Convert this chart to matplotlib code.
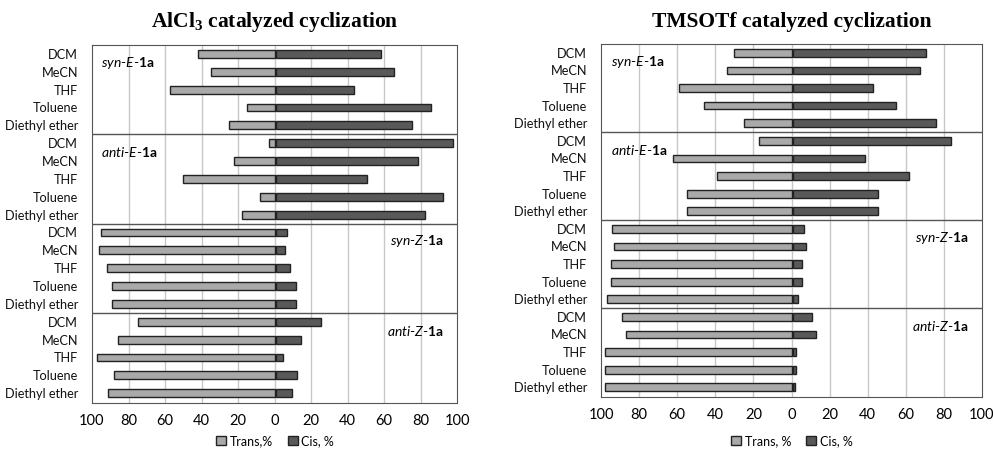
import numpy as np
import matplotlib.pyplot as plt
from matplotlib.patches import Patch

plt.rcParams['font.family'] = ['Lato', 'DejaVu Sans']
plt.rcParams['mathtext.fontset'] = 'custom'
plt.rcParams['mathtext.it'] = 'Lato:italic'
plt.rcParams['mathtext.bf'] = 'Lato:bold'
plt.rcParams['mathtext.rm'] = 'Lato'

solvents = ['DCM', 'MeCN', 'THF', 'Toluene', 'Diethyl ether']
groups = [r'$\mathit{syn}$-$\mathit{E}$-$\mathbf{1a}$', r'$\mathit{anti}$-$\mathit{E}$-$\mathbf{1a}$',
          r'$\mathit{syn}$-$\mathit{Z}$-$\mathbf{1a}$', r'$\mathit{anti}$-$\mathit{Z}$-$\mathbf{1a}$']

# AlCl3 (rows: syn-E, anti-E, syn-Z, anti-Z; each 5 solvents)
alcl3_trans = [42, 35, 57, 15, 25,
               3, 22, 50, 8, 18,
               95, 96, 92, 89, 89,
               75, 86, 97, 88, 91]
alcl3_cis = [58, 65, 43, 85, 75,
             97, 78, 50, 92, 82,
             6, 5, 8, 11, 11,
             25, 14, 4, 12, 9]

# TMSOTf
tms_trans = [30, 34, 59, 46, 25,
             17, 62, 39, 55, 55,
             94, 93, 95, 95, 97,
             89, 87, 98, 98, 98]
tms_cis = [70, 67, 42, 54, 75,
           83, 38, 61, 45, 45,
           6, 7, 5, 5, 3,
           10, 12, 1.5, 1.5, 1]

titles = [r'AlCl$_\mathregular{3}$ catalyzed cyclization', 'TMSOTf catalyzed cyclization']
legend_labels = [['Trans,%', 'Cis, %'], ['Trans, %', 'Cis, %']]

W, H = 993, 450
fig = plt.figure(figsize=(W / 100, H / 100), dpi=100)

boxes = [(92, 45, 457, 403), (601, 44, 982, 397)]
light, dark = '#a9a9a9', '#595959'

for k, (trans, cis) in enumerate([(alcl3_trans, alcl3_cis), (tms_trans, tms_cis)]):
    x0, y0, x1, y1 = boxes[k]
    ax = fig.add_axes([x0 / W, 1 - y1 / H, (x1 - x0) / W, (y1 - y0) / H])
    y = np.arange(len(trans))
    ax.barh(y, -np.array(trans), height=0.44, color=light, edgecolor='#222222', lw=1, zorder=3)
    ax.barh(y, cis, height=0.44, color=dark, edgecolor='#222222', lw=1, zorder=3, left=0.6)
    ax.set_xlim(-100, 100)
    ax.set_ylim(19.55, -0.5)
    ax.set_yticks(y)
    ax.set_yticklabels(solvents * 4, fontsize=9.2, color='#111111')
    ax.set_xticks(np.arange(-100, 101, 20))
    ax.set_xticklabels([str(abs(v)) for v in range(-100, 101, 20)], fontsize=10.5)
    ax.tick_params(length=0, pad=8)
    ax.tick_params(axis='y', pad=10)
    for v in range(-80, 100, 20):
        ax.axvline(v, color='#c8c8c8', lw=1, zorder=1)
    for b in (4.5, 9.5, 14.5):
        ax.axhline(b, color='#555555', lw=1, zorder=2)
    for s in ax.spines.values():
        s.set_color('#555555')
    for g in range(4):
        if g < 2:
            ax.text(-95, g * 5 + 0.5, groups[g], fontsize=10, ha='left', va='center')
        else:
            ax.text(93, g * 5 + 0.5, groups[g], fontsize=10, ha='right', va='center')
    fig.text((x0 + x1) / 2 / W, 1 - 22 / H, titles[k],
             family='Liberation Serif', fontweight='bold', fontsize=15.5,
             ha='center', va='center')
    handles = [Patch(facecolor=light, edgecolor='#222222'), Patch(facecolor=dark, edgecolor='#222222')]
    cx = (275 if k == 0 else 792) / W
    fig.legend(handles, legend_labels[k], loc='center', bbox_to_anchor=(cx, 1 - 441 / H),
               ncol=2, frameon=False, fontsize=9, handlelength=0.8, handleheight=0.8,
               handletextpad=0.3, columnspacing=1.2)

fig.savefig('out.png', dpi=100)
